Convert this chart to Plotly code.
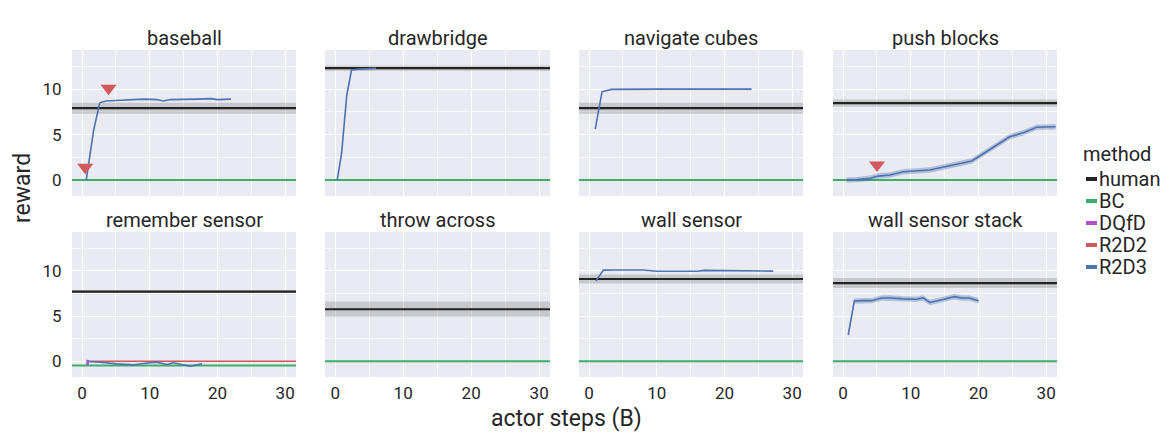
import plotly.graph_objects as go

# ---------------- data ----------------
tasks = ["baseball", "drawbridge", "navigate cubes", "push blocks",
         "remember sensor", "throw across", "wall sensor", "wall sensor stack"]

human_mean = [7.9, 12.3, 7.9, 8.45, 7.7, 5.75, 9.1, 8.65]
human_err = [0.6, 0.3, 0.6, 0.4, 0.15, 0.85, 0.5, 0.55]

bc_value = [0.0, 0.0, 0.0, 0.0, -0.47, 0.0, 0.0, 0.0]

r2d3_x = {
    "baseball": [0.6, 1.2, 1.7, 2.6, 3.5, 5, 7, 9, 11, 12, 13, 15, 17, 19, 20, 22],
    "drawbridge": [0.3, 0.95, 1.7, 2.4, 3.5, 5, 6],
    "navigate cubes": [0.9, 1.9, 3.3, 6, 10, 15, 20, 24],
    "push blocks": [0.5, 2, 4, 5.2, 6.9, 8.9, 12.8, 15.3, 17.3, 19.0, 20.7, 22.7, 24.6, 26.6, 28.6, 31.4],
    "remember sensor": [0.8, 2.7, 5.1, 7.6, 10, 11, 12.5, 13.5, 14.7, 16, 17.7],
    "throw across": [],
    "wall sensor": [1.0, 2.1, 4, 8, 10, 13, 16, 17, 20, 24, 27.2],
    "wall sensor stack": [0.75, 1.65, 3.0, 4.2, 5.7, 7.1, 8.8, 10.8, 11.8, 12.8, 14.9, 16.4, 17.6, 18.6, 20.0],
}
r2d3_y = {
    "baseball": [0.0, 2.9, 5.5, 8.5, 8.7, 8.75, 8.85, 8.9, 8.85, 8.7, 8.85, 8.85, 8.9, 8.95, 8.85, 8.9],
    "drawbridge": [0.0, 3.0, 9.3, 12.1, 12.2, 12.25, 12.3],
    "navigate cubes": [5.6, 9.7, 9.97, 10.0, 10.0, 10.0, 10.0, 10.0],
    "push blocks": [0.0, 0.05, 0.2, 0.44, 0.55, 0.92, 1.1, 1.47, 1.83, 2.1, 2.9, 3.85, 4.76, 5.2, 5.8, 5.86],
    "remember sensor": [-0.04, -0.11, -0.3, -0.4, -0.18, -0.11, -0.37, -0.18, -0.37, -0.55, -0.3],
    "throw across": [],
    "wall sensor": [8.87, 10.08, 10.1, 10.1, 9.95, 9.95, 9.95, 10.05, 10.05, 10.05, 9.97],
    "wall sensor stack": [2.9, 6.67, 6.7, 6.7, 7.0, 7.0, 6.9, 6.85, 7.0, 6.5, 6.85, 7.14, 7.0, 7.0, 6.7],
}
r2d3_err = [0.05, 0.05, 0.05, 0.3, 0.05, 0.0, 0.05, 0.3]

# R2D2 (mostly hidden at zero)
r2d2_x = {"navigate cubes": [0.4, 20.3], "remember sensor": [0.8, 31.6]}
r2d2_y = {"navigate cubes": [0.0, 0.0], "remember sensor": [0.0, 0.0]}

# DQfD (tiny early segment)
dqfd_x = {"remember sensor": [0.8, 0.8]}
dqfd_y = {"remember sensor": [-0.45, 0.15]}

# first-success markers
marker_task = ["baseball", "baseball", "push blocks"]
marker_x = [0.45, 3.9, 5.0]
marker_y = [1.4, 10.1, 1.65]

legend_names = ["human", "BC", "DQfD", "R2D2", "R2D3"]

# ---------------- style ----------------
C_HUMAN = "#222222"
C_BC = "#3cae6a"
C_DQFD = "#b04fd0"
C_R2D2 = "#d0595c"
C_R2D3 = "#4c72b0"
legend_colors = [C_HUMAN, C_BC, C_DQFD, C_R2D2, C_R2D3]
FONT = "Roboto"
TXT = "#262626"

OFF = 8  # default page body margin
W, H = 1176 - OFF, 446 - OFF
XR = [-1.5, 31.6]
YR = [-1.75, 14.3]
cols_px = [(72, 296), (325, 550), (579, 803), (833, 1057)]
rows_px = [(50, 196), (232, 377)]


def px(v):
    return (v - OFF) / W


def py(v):
    return 1 - (v - OFF) / H


fig = go.Figure()
layout = {}

for i, task in enumerate(tasks):
    r, c = divmod(i, 4)
    n = i + 1
    xa = "x" if n == 1 else f"x{n}"
    ya = "y" if n == 1 else f"y{n}"
    xkey = "xaxis" if n == 1 else f"xaxis{n}"
    ykey = "yaxis" if n == 1 else f"yaxis{n}"
    x0, x1 = cols_px[c]
    y0, y1 = rows_px[r]
    layout[xkey] = dict(
        domain=[px(x0), px(x1)], anchor=ya, range=XR, tick0=0, dtick=10,
        showticklabels=(r == 1), showgrid=True, gridcolor="white", gridwidth=1.3,
        zeroline=False, showline=False, ticks="outside", ticklen=1, tickcolor="rgba(0,0,0,0)",
        tickfont=dict(family=FONT, size=17, color=TXT),
        minor=dict(dtick=5, tick0=0, showgrid=True, gridcolor="rgba(255,255,255,0.7)", gridwidth=0.7),
    )
    layout[ykey] = dict(
        domain=[py(y1), py(y0)], anchor=xa, range=YR, tick0=0, dtick=5,
        showticklabels=(c == 0), showgrid=True, gridcolor="white", gridwidth=1.3,
        zeroline=False, showline=False, ticks="outside", ticklen=6, tickcolor="rgba(0,0,0,0)",
        tickfont=dict(family=FONT, size=17, color=TXT),
        minor=dict(dtick=2.5, tick0=0, showgrid=True, gridcolor="rgba(255,255,255,0.7)", gridwidth=0.7),
    )

    # human band + line
    hm, he = human_mean[i], human_err[i]
    fig.add_trace(go.Scatter(x=[XR[0], XR[1], XR[1], XR[0]], y=[hm - he, hm - he, hm + he, hm + he],
                             fill="toself", fillcolor="rgba(0,0,0,0.15)", line=dict(width=0),
                             mode="lines", xaxis=xa, yaxis=ya, showlegend=False, hoverinfo="skip"))
    # R2D2
    if task in r2d2_x:
        fig.add_trace(go.Scatter(x=r2d2_x[task], y=r2d2_y[task], mode="lines",
                                 line=dict(color=C_R2D2, width=1.6), xaxis=xa, yaxis=ya, showlegend=False))
    # BC
    fig.add_trace(go.Scatter(x=XR, y=[bc_value[i]] * 2, mode="lines",
                             line=dict(color=C_BC, width=2), xaxis=xa, yaxis=ya, showlegend=False))
    # human line
    fig.add_trace(go.Scatter(x=XR, y=[hm, hm], mode="lines",
                             line=dict(color=C_HUMAN, width=2.2), xaxis=xa, yaxis=ya, showlegend=False))
    # DQfD
    if task in dqfd_x:
        fig.add_trace(go.Scatter(x=dqfd_x[task], y=dqfd_y[task], mode="lines",
                                 line=dict(color=C_DQFD, width=2.5), xaxis=xa, yaxis=ya, showlegend=False))
    # R2D3 band + line
    xs, ys = r2d3_x[task], r2d3_y[task]
    if xs:
        e = r2d3_err[i]
        if e > 0.1:
            fig.add_trace(go.Scatter(x=xs + xs[::-1], y=[v + e for v in ys] + [v - e for v in ys[::-1]],
                                     fill="toself", fillcolor="rgba(76,114,176,0.35)", line=dict(width=0),
                                     mode="lines", xaxis=xa, yaxis=ya, showlegend=False, hoverinfo="skip"))
        fig.add_trace(go.Scatter(x=xs, y=ys, mode="lines", line=dict(color=C_R2D3, width=1.6),
                                 xaxis=xa, yaxis=ya, showlegend=False))
    # markers
    mx = [marker_x[k] for k in range(len(marker_task)) if marker_task[k] == task]
    my = [marker_y[k] for k in range(len(marker_task)) if marker_task[k] == task]
    if mx:
        fig.add_trace(go.Scatter(x=mx, y=my, mode="markers",
                                 marker=dict(symbol="triangle-down", size=14, color=C_R2D2, line=dict(width=0)),
                                 xaxis=xa, yaxis=ya, showlegend=False))

annotations = []
for i, task in enumerate(tasks):
    r, c = divmod(i, 4)
    x0, x1 = cols_px[c]
    y0, _ = rows_px[r]
    annotations.append(dict(text=task, x=px((x0 + x1) / 2), y=py(y0 - 12), xref="paper", yref="paper",
                            xanchor="center", yanchor="middle", showarrow=False,
                            font=dict(family=FONT, size=20, color=TXT)))
annotations.append(dict(text="reward", x=px(22), y=py(188), xref="paper", yref="paper", textangle=-90,
                        xanchor="center", yanchor="middle", showarrow=False,
                        font=dict(family=FONT, size=23, color=TXT)))
annotations.append(dict(text="actor steps (B)", x=px(566), y=py(418), xref="paper", yref="paper",
                        xanchor="center", yanchor="middle", showarrow=False,
                        font=dict(family=FONT, size=23, color=TXT)))
# manual legend
annotations.append(dict(text="method", x=px(1081), y=py(154), xref="paper", yref="paper",
                        xanchor="left", yanchor="middle", showarrow=False,
                        font=dict(family=FONT, size=20, color=TXT)))
shapes = []
for k, name in enumerate(legend_names):
    yy = py(179 + k * 22)
    shapes.append(dict(type="line", xref="paper", yref="paper", x0=px(1086), x1=px(1097), y0=yy, y1=yy,
                       line=dict(color=legend_colors[k], width=4)))
    annotations.append(dict(text=name, x=px(1097), y=yy, xref="paper", yref="paper",
                            xanchor="left", yanchor="middle", showarrow=False,
                            font=dict(family=FONT, size=20, color=TXT)))

fig.update_layout(width=W, height=H, margin=dict(l=0, r=0, t=0, b=0), paper_bgcolor="white",
                  plot_bgcolor="#eaeaf2", showlegend=False, annotations=annotations, shapes=shapes,
                  **layout)
fig.write_html("out.html")
